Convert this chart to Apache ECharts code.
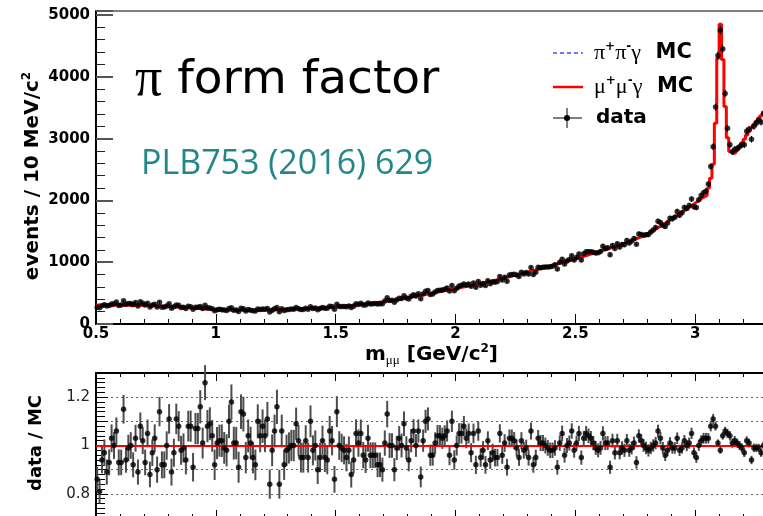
<!DOCTYPE html>
<html>
<head>
<meta charset="utf-8">
<script src="https://cdn.jsdelivr.net/npm/echarts@6/dist/echarts.min.js"></script>
<style>
  html, body { margin: 0; padding: 0; background: #fff; }
  #main { width: 763px; height: 516px; }
</style>
</head>
<body>
<div id="main"></div>
<script>
// m(mu mu) spectrum in 10 MeV/c^2 bins, starting at 0.50 GeV/c^2
const binStart = 0.5;
const binWidth = 0.01;

// mu+ mu- gamma MC prediction (events / bin)
const mcMuMuGamma = [
  302, 308, 298, 305, 310, 303, 296, 306, 312, 300,
  306, 298, 311, 304, 296, 309, 302, 297, 305, 300,
  303, 296, 290, 299, 293, 288, 295, 284, 289, 282,
  286, 278, 283, 272, 276, 268, 271, 262, 266, 258,
  260, 252, 255, 246, 249, 240, 243, 236, 238, 231,
  228, 232, 225, 229, 222, 226, 223, 220, 225, 221,
  224, 219, 223, 226, 220, 224, 227, 222, 226, 224,
  228, 225, 230, 227, 232, 229, 234, 231, 236, 235,
  238, 241, 239, 244, 242, 247, 245, 250, 249, 253,
  255, 258, 257, 262, 264, 267, 270, 272, 276, 278,
  281, 284, 288, 291, 294, 299, 302, 306, 310, 314,
  318, 322, 327, 331, 336, 341, 346, 352, 357, 362,
  368, 374, 379, 386, 392, 398, 405, 411, 418, 425,
  432, 439, 446, 453, 460, 468, 475, 482, 490, 497,
  505, 512, 520, 527, 535, 542, 550, 557, 565, 572,
  580, 586, 597, 601, 612, 618, 629, 633, 645, 650,
  660, 669, 676, 687, 694, 705, 712, 723, 730, 741,
  750, 760, 768, 780, 788, 800, 808, 820, 828, 840,
  850, 861, 869, 882, 890, 903, 911, 924, 932, 945,
  955, 967, 976, 989, 998, 1011, 1020, 1033, 1042, 1055,
  1065, 1078, 1088, 1102, 1112, 1126, 1136, 1150, 1160, 1174,
  1185, 1198, 1208, 1222, 1233, 1247, 1258, 1272, 1283, 1298,
  1310, 1326, 1339, 1356, 1370, 1388, 1402, 1421, 1436, 1459,
  1480, 1503, 1523, 1548, 1569, 1594, 1616, 1643, 1666, 1694,
  1720, 1746, 1769, 1796, 1819, 1847, 1871, 1900, 1925, 1956,
  1985, 2010, 2040, 2060, 2085, 2200, 2360, 2585, 3250, 4300,
  4850, 4280, 3520, 3015, 2790, 2760, 2770, 2810, 2870, 2930,
  2990, 3060, 3120, 3180, 3230, 3280, 3330, 3370, 3410, 3450
];

// pi+ pi- gamma MC contribution at low mass (stacked on top of mu mu gamma)
const mcPiPiGamma = [
  12, 14, 15, 15, 16, 18, 18, 20, 22, 24,
  26, 28, 30, 32, 34, 35, 34, 32, 30, 28,
  26, 24, 22, 20, 18, 16, 14, 12, 10, 9,
  8, 7, 6, 5, 4, 4, 3, 3, 2, 2
];

// measured data / MC ratio per bin
const dataOverMC = [
  0.86, 0.81, 0.94, 0.97, 0.89, 0.93, 1.03, 1.00, 1.06, 0.93,
  0.93, 1.15, 0.94, 0.99, 1.00, 0.92, 1.03, 0.89, 1.08, 1.02,
  0.93, 1.05, 0.88, 0.97, 1.03, 0.90, 1.14, 0.92, 0.92, 1.00,
  1.11, 0.89, 0.97, 1.11, 1.08, 0.98, 0.99, 0.94, 1.08, 1.08,
  0.91, 1.07, 1.07, 1.16, 1.01, 1.26, 1.08, 1.09, 1.04, 0.92,
  1.01, 1.02, 1.02, 0.99, 0.98, 1.10, 1.18, 1.01, 1.01, 0.91,
  1.14, 1.13, 0.95, 1.04, 1.01, 0.95, 0.92, 1.10, 1.04, 1.08,
  1.04, 1.11, 0.84, 0.98, 1.06, 1.16, 0.84, 1.06, 0.92, 0.98,
  0.99, 1.00, 1.00, 1.09, 1.02, 0.95, 0.95, 1.02, 0.95, 1.10,
  0.98, 1.00, 0.90, 0.95, 1.02, 0.95, 0.94, 1.06, 1.02, 0.86,
  1.14, 1.00, 0.99, 0.98, 0.95, 0.98, 0.88, 0.94, 1.05, 1.01,
  1.05, 0.96, 0.94, 1.03, 0.96, 0.96, 0.96, 0.92, 0.92, 0.90,
  1.01, 1.13, 1.00, 1.00, 0.90, 0.99, 1.03, 1.00, 1.09, 0.99,
  0.94, 1.02, 1.06, 1.00, 1.06, 0.87, 1.02, 1.10, 1.11, 0.96,
  0.96, 1.01, 1.04, 1.04, 1.03, 1.04, 1.06, 0.96, 1.10, 0.94,
  1.00, 1.05, 1.05, 1.08, 1.03, 1.05, 0.97, 1.05, 0.92, 1.06,
  0.95, 0.98, 0.92, 1.02, 0.94, 0.97, 0.95, 0.95, 1.05, 0.96,
  1.01, 0.91, 1.03, 1.03, 1.02, 0.99, 0.95, 1.02, 0.98, 0.99,
  0.95, 1.06, 0.92, 0.95, 1.03, 1.01, 1.01, 1.00, 0.99, 0.98,
  0.98, 0.99, 0.91, 1.01, 1.05, 0.96, 1.00, 1.01, 1.06, 0.98,
  1.01, 1.05, 0.95, 1.03, 1.05, 1.04, 1.03, 1.01, 0.99, 0.98,
  0.99, 1.05, 1.01, 1.01, 0.91, 1.02, 0.97, 1.02, 0.97, 0.99,
  0.98, 1.02, 0.98, 0.99, 1.01, 0.93, 1.04, 1.02, 1.00, 0.99,
  0.98, 0.99, 1.00, 1.01, 1.06, 1.03, 0.99, 0.96, 0.98, 1.01,
  0.99, 0.99, 1.03, 0.98, 0.99, 1.02, 1.00, 1.01, 1.05, 0.97,
  0.95, 1.00, 1.02, 1.03, 1.03, 1.03, 1.08, 1.11, 1.08, 1.01,
  0.98, 1.04, 1.06, 1.05, 1.04, 1.01, 1.02, 1.01, 1.00, 0.99,
  0.97, 1.02, 1.01, 0.94, 0.99, 0.99, 0.99, 0.97, 1.00, 1.00
];

// axis tick values
const massTicks = [0.5, 1, 1.5, 2, 2.5, 3];
const eventTicks = [0, 1000, 2000, 3000, 4000, 5000];
const ratioLabels = [0.8, 1, 1.2];

// ---- derived per-bin quantities ----
const nBins = mcMuMuGamma.length;
const binLow = [], binCenter = [];
for (let i = 0; i < nBins; i++) {
  binLow.push(+(binStart + i * binWidth).toFixed(3));
  binCenter.push(+(binStart + (i + 0.5) * binWidth).toFixed(3));
}
const mcTotal = mcMuMuGamma.map((v, i) => v + (mcPiPiGamma[i] || 0));
const dataCounts = mcTotal.map((v, i) => Math.round(v * dataOverMC[i]));

// histogram outline: a flat segment across every bin
function histogramPath(values) {
  const pts = [];
  values.forEach((v, i) => {
    pts.push([binLow[i], v]);
    pts.push([+(binLow[i] + binWidth).toFixed(3), v]);
  });
  return pts;
}

const dataPoints = dataCounts.map((n, i) => [binCenter[i], n, Math.sqrt(n)]);
const ratioPoints = dataOverMC.map((r, i) => [binCenter[i], r, r / Math.sqrt(dataCounts[i])]);

function errorBars(color, width) {
  return function (params, api) {
    const x = api.value(0), y = api.value(1), e = api.value(2);
    const hi = api.coord([x, y + e]);
    const lo = api.coord([x, y - e]);
    return {
      type: 'line',
      shape: { x1: hi[0], y1: hi[1], x2: lo[0], y2: lo[1] },
      style: { stroke: color, lineWidth: width }
    };
  };
}

const boldFont = 'DejaVu Sans';
const massAxisCommon = {
  type: 'value', min: 0.5, max: 3.5, interval: 0.5,
  splitLine: { show: false },
  axisLine: { show: true, onZero: false, lineStyle: { color: '#000', width: 2 } },
  minorTick: { show: true, splitNumber: 5, lineStyle: { color: '#000', width: 1 } }
};

const option = {
  animation: false,
  backgroundColor: '#fff',
  grid: [
    { left: 96, top: 11, width: 719, height: 313, show: true, borderColor: '#000', borderWidth: 1,
      backgroundColor: 'transparent', containLabel: false, outerBoundsMode: 'none' },
    { left: 96, top: 373, width: 719, height: 145, show: true, borderColor: '#000', borderWidth: 1,
      backgroundColor: 'transparent', containLabel: false, outerBoundsMode: 'none' }
  ],
  xAxis: [
    Object.assign({}, massAxisCommon, {
      gridIndex: 0, position: 'bottom',
      axisTick: { show: true, inside: true, length: 10, lineStyle: { color: '#000', width: 1 } },
      minorTick: { show: true, splitNumber: 5, length: 5, lineStyle: { color: '#000', width: 1 } },
      axisLabel: {
        show: true, margin: 3, color: '#000', fontFamily: boldFont, fontWeight: 'bold', fontSize: 15,
        showMaxLabel: false,
        formatter: v => (massTicks.some(t => Math.abs(t - v) < 1e-6) ? String(+(+v).toFixed(1)) : '')
      }
    }),
    Object.assign({}, massAxisCommon, {
      gridIndex: 1, position: 'bottom',
      axisTick: { show: true, inside: true, length: 8, lineStyle: { color: '#000', width: 1 } },
      minorTick: { show: true, splitNumber: 5, length: 4, lineStyle: { color: '#000', width: 1 } },
      axisLabel: { show: false }
    }),
    Object.assign({}, massAxisCommon, {
      gridIndex: 1, position: 'top',
      axisTick: { show: true, inside: true, length: 8, lineStyle: { color: '#000', width: 1 } },
      minorTick: { show: true, splitNumber: 5, length: 4, lineStyle: { color: '#000', width: 1 } },
      axisLabel: { show: false }
    })
  ],
  yAxis: [
    {
      gridIndex: 0, type: 'value', min: 0, max: 5065, interval: 1000,
      splitLine: { show: false },
      axisLine: { show: true, onZero: false, lineStyle: { color: '#000', width: 2 } },
      axisTick: { show: true, inside: true, length: 17, lineStyle: { color: '#555', width: 2 } },
      minorTick: { show: true, splitNumber: 5, length: 9, lineStyle: { color: '#222', width: 1 } },
      axisLabel: {
        show: true, margin: 6, color: '#000', fontFamily: boldFont, fontWeight: 'bold', fontSize: 15,
        showMaxLabel: false,
        formatter: v => (eventTicks.indexOf(Math.round(v)) >= 0 ? String(Math.round(v)) : '')
      }
    },
    {
      gridIndex: 1, type: 'value', min: 0.7, max: 1.3, interval: 0.1,
      axisLine: { show: true, onZero: false, lineStyle: { color: '#000', width: 2 } },
      axisTick: { show: true, inside: true, length: 12, lineStyle: { color: '#000', width: 1 } },
      minorTick: { show: true, splitNumber: 5, length: 9, lineStyle: { color: '#000', width: 1 } },
      splitLine: { show: true, lineStyle: { color: '#666', width: 1, type: [2, 3] } },
      axisLabel: {
        show: true, margin: 6, color: '#222', fontFamily: 'DejaVu Sans', fontSize: 15,
        showMinLabel: false, showMaxLabel: false,
        formatter: v => {
          const hit = ratioLabels.find(t => Math.abs(t - v) < 1e-6);
          return hit === undefined ? '' : String(hit);
        }
      }
    }
  ],
  series: [
    {
      name: 'pipigamma', type: 'line', xAxisIndex: 0, yAxisIndex: 0,
      data: histogramPath(mcTotal), symbol: 'none', silent: true, z: 2,
      lineStyle: { color: '#4a4aff', width: 1.5, type: [4, 3] }
    },
    {
      name: 'mumugamma', type: 'line', xAxisIndex: 0, yAxisIndex: 0,
      data: histogramPath(mcMuMuGamma), symbol: 'none', silent: true, z: 3,
      lineStyle: { color: '#ff0000', width: 3 }
    },
    {
      name: 'data errors', type: 'custom', xAxisIndex: 0, yAxisIndex: 0,
      data: dataPoints, renderItem: errorBars('#000', 1), silent: true, z: 4,
      encode: { x: 0, y: 1 }
    },
    {
      name: 'data', type: 'scatter', xAxisIndex: 0, yAxisIndex: 0,
      data: dataPoints.map(p => [p[0], p[1]]), symbol: 'circle', symbolSize: 5.5,
      itemStyle: { color: '#000' }, silent: true, z: 5
    },
    {
      name: 'ratio errors', type: 'custom', xAxisIndex: 1, yAxisIndex: 1,
      data: ratioPoints, renderItem: errorBars('#4d4d4d', 2), silent: true, z: 2,
      encode: { x: 0, y: 1 }
    },
    {
      name: 'unity', type: 'line', xAxisIndex: 1, yAxisIndex: 1, data: [], z: 3,
      markLine: {
        silent: true, symbol: 'none', animation: false,
        label: { show: false },
        lineStyle: { color: '#ff0000', width: 2, type: 'solid' },
        data: [{ yAxis: 1 }]
      }
    },
    {
      name: 'ratio', type: 'scatter', xAxisIndex: 1, yAxisIndex: 1,
      data: ratioPoints.map(p => [p[0], p[1]]), symbol: 'circle', symbolSize: 5.5,
      itemStyle: { color: '#000' }, silent: true, z: 5
    }
  ],
  graphic: [
    {
      type: 'text', x: 135, y: 81, z: 10,
      style: {
        text: '{p|π} form factor', fill: '#000',
        fontFamily: 'DejaVu Sans', fontSize: 47,
        textAlign: 'left', textVerticalAlign: 'middle',
        rich: { p: { fontFamily: 'Liberation Serif', fontSize: 54 } }
      }
    },
    {
      type: 'text', x: 141, y: 164, z: 10,
      style: {
        text: 'PLB753 (2016) 629', fill: '#23878a',
        fontFamily: 'Open Sans', fontSize: 34,
        textAlign: 'left', textVerticalAlign: 'middle'
      }
    },
    // legend
    { type: 'line', z: 10, shape: { x1: 553, y1: 53, x2: 583, y2: 53 }, style: { stroke: '#4a4aff', lineWidth: 1.5, lineDash: [4, 3] } },
    { type: 'line', z: 10, shape: { x1: 553, y1: 87, x2: 583, y2: 87 }, style: { stroke: '#ff0000', lineWidth: 2.5 } },
    { type: 'line', z: 10, shape: { x1: 553, y1: 118, x2: 582, y2: 118 }, style: { stroke: '#000', lineWidth: 1 } },
    { type: 'line', z: 10, shape: { x1: 567, y1: 108, x2: 567, y2: 128 }, style: { stroke: '#000', lineWidth: 1 } },
    { type: 'circle', z: 10, shape: { cx: 567, cy: 118, r: 3 }, style: { fill: '#000' } },
    {
      type: 'text', x: 594, y: 53, z: 10,
      style: {
        text: '{g|π}{s|+}{g|π}{s|-}{g|γ}{b|  MC}', fill: '#000',
        textAlign: 'left', textVerticalAlign: 'middle',
        rich: {
          g: { fontFamily: 'Liberation Serif', fontSize: 22, lineHeight: 24 },
          s: { fontFamily: boldFont, fontWeight: 'bold', fontSize: 12, verticalAlign: 'top' },
          b: { fontFamily: boldFont, fontWeight: 'bold', fontSize: 21, lineHeight: 24 }
        }
      }
    },
    {
      type: 'text', x: 594, y: 87, z: 10,
      style: {
        text: '{g|μ}{s|+}{g|μ}{s|-}{g|γ}{b|  MC}', fill: '#000',
        textAlign: 'left', textVerticalAlign: 'middle',
        rich: {
          g: { fontFamily: 'Liberation Serif', fontSize: 22, lineHeight: 24 },
          s: { fontFamily: boldFont, fontWeight: 'bold', fontSize: 12, verticalAlign: 'top' },
          b: { fontFamily: boldFont, fontWeight: 'bold', fontSize: 21, lineHeight: 24 }
        }
      }
    },
    {
      type: 'text', x: 596, y: 118, z: 10,
      style: {
        text: 'data', fill: '#000', fontFamily: boldFont, fontWeight: 'bold', fontSize: 20,
        textAlign: 'left', textVerticalAlign: 'middle'
      }
    },
    // axis titles
    {
      type: 'text', x: 33, y: 176, rotation: Math.PI / 2, z: 10,
      style: {
        text: '{b|events / 10 MeV/c}{s|2}', fill: '#000',
        textAlign: 'center', textVerticalAlign: 'middle',
        rich: {
          b: { fontFamily: boldFont, fontWeight: 'bold', fontSize: 20, lineHeight: 24 },
          s: { fontFamily: boldFont, fontWeight: 'bold', fontSize: 12, verticalAlign: 'top' }
        }
      }
    },
    {
      type: 'text', x: 365, y: 355, z: 10,
      style: {
        text: '{b|m}{u|μμ}{b| [GeV/c}{s|2}{b|]}', fill: '#000',
        textAlign: 'left', textVerticalAlign: 'middle',
        rich: {
          b: { fontFamily: boldFont, fontWeight: 'bold', fontSize: 20, lineHeight: 24 },
          u: { fontFamily: 'Liberation Serif', fontSize: 13, verticalAlign: 'bottom' },
          s: { fontFamily: boldFont, fontWeight: 'bold', fontSize: 12, verticalAlign: 'top' }
        }
      }
    },
    {
      type: 'text', x: 36, y: 443, rotation: Math.PI / 2, z: 10,
      style: {
        text: 'data / MC', fill: '#000', fontFamily: boldFont, fontWeight: 'bold', fontSize: 18,
        textAlign: 'center', textVerticalAlign: 'middle'
      }
    }
  ]
};

const chart = echarts.init(document.getElementById('main'), null, { renderer: 'canvas' });
chart.setOption(option);
</script>
</body>
</html>
